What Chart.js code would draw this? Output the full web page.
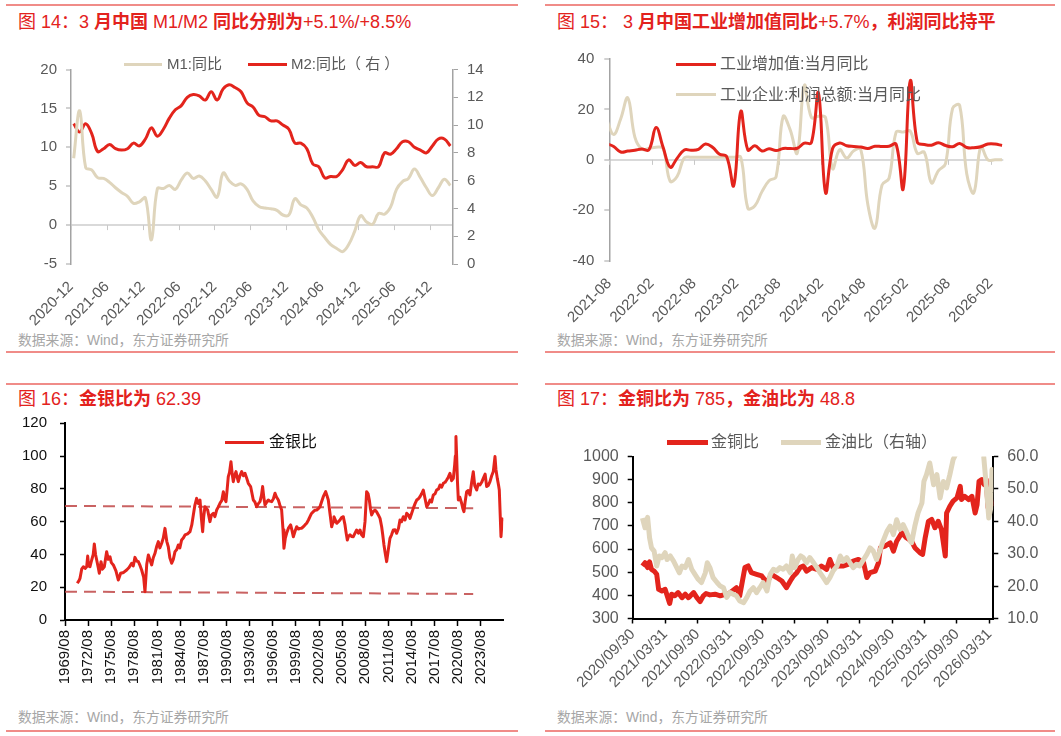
<!DOCTYPE html>
<html>
<head>
<meta charset="utf-8">
<title>图14-图17</title>
<script src="https://cdn.jsdelivr.net/npm/chart.js"></script>
<style>
  html, body { margin: 0; padding: 0; background: #ffffff; }
  body { position: relative; width: 1061px; height: 736px; overflow: hidden;
         font-family: 'Liberation Sans', Arial, 'Noto Sans CJK SC', sans-serif; }
  .rule { position: absolute; height: 2px; background: #f08c88; }
  .title { position: absolute; font-size: 18px; line-height: 22px; color: #e3221d; white-space: nowrap; }
  .src { position: absolute; font-size: 13.8px; line-height: 18px; color: #a6a6a6; white-space: nowrap; }
  .box { position: absolute; }
  .key { position: absolute; }
  .lab { position: absolute; line-height: 20px; white-space: nowrap; }
</style>
</head>
<body>
  <!-- separators -->
  <div class="rule" style="left:6px;top:4px;width:512px"></div>
  <div class="rule" style="left:545px;top:4px;width:510px"></div>
  <div class="rule" style="left:6px;top:351px;width:512px"></div>
  <div class="rule" style="left:545px;top:351px;width:510px"></div>
  <div class="rule" style="left:6px;top:383px;width:512px"></div>
  <div class="rule" style="left:545px;top:383px;width:510px"></div>
  <div class="rule" style="left:6px;top:730px;width:512px"></div>
  <div class="rule" style="left:545px;top:730px;width:510px"></div>

  <!-- titles -->
  <div class="title" style="left:18px;top:11px">图 14：3 <b>月中国</b> M1/M2 <b>同比分别为</b>+5.1%/+8.5%</div>
  <div class="title" style="left:557px;top:11px">图 15： 3 <b>月中国工业增加值同比</b>+5.7%<b>，利润同比持平</b></div>
  <div class="title" style="left:18px;top:388px">图 16：<b>金银比为</b> 62.39</div>
  <div class="title" style="left:557px;top:388px">图 17：<b>金铜比为</b> 785<b>，金油比为</b> 48.8</div>

  <!-- sources -->
  <div class="src" style="left:18px;top:332px">数据来源：Wind，东方证券研究所</div>
  <div class="src" style="left:557px;top:332px">数据来源：Wind，东方证券研究所</div>
  <div class="src" style="left:18px;top:709px">数据来源：Wind，东方证券研究所</div>
  <div class="src" style="left:557px;top:709px">数据来源：Wind，东方证券研究所</div>

  <!-- charts -->
  <div class="box" style="left:0;top:40px"><canvas id="c14" width="530" height="310"></canvas></div>
  <div class="box" style="left:530px;top:40px"><canvas id="c15" width="531" height="310"></canvas></div>
  <div class="box" style="left:0;top:400px"><canvas id="c16" width="530" height="300"></canvas></div>
  <div class="box" style="left:530px;top:400px"><canvas id="c17" width="531" height="300"></canvas></div>

  <!-- legends -->
  <div class="key" style="left:124px;top:63px;width:38px;height:3px;background:#dfd5bc"></div>
  <div class="lab" style="left:167px;top:54px;font-size:15px;color:#595959">M1:同比</div>
  <div class="key" style="left:248px;top:63px;width:39px;height:3px;background:#e3241c"></div>
  <div class="lab" style="left:291px;top:54px;font-size:15px;color:#595959">M2:同比（ 右 ）</div>

  <div class="key" style="left:676px;top:63px;width:40px;height:3px;background:#e3241c"></div>
  <div class="lab" style="left:720px;top:54px;font-size:16px;color:#595959">工业增加值:当月同比</div>
  <div class="key" style="left:676px;top:93px;width:40px;height:3px;background:#dfd5bc"></div>
  <div class="lab" style="left:720px;top:85px;font-size:16px;color:#595959">工业企业:利润总额:当月同比</div>

  <div class="key" style="left:225px;top:441px;width:39px;height:3px;background:#e3241c"></div>
  <div class="lab" style="left:269px;top:432px;font-size:16px;color:#111">金银比</div>

  <div class="key" style="left:667px;top:440px;width:41px;height:5px;background:#e3241c"></div>
  <div class="lab" style="left:711px;top:432px;font-size:16px;color:#595959">金铜比</div>
  <div class="key" style="left:781px;top:440px;width:40px;height:5px;background:#dfd5bc"></div>
  <div class="lab" style="left:825px;top:432px;font-size:16px;color:#595959">金油比（右轴）</div>

<script>
  // ---------- 图14：M1 / M2 同比，2020-12 至 2026-03，月度 ----------
  var moneyTicks = ['2020-12', '2021-06', '2021-12', '2022-06', '2022-12', '2023-06',
                    '2023-12', '2024-06', '2024-12', '2025-06', '2025-12'];
  var m1Yoy = [8.6, 14.7, 7.4, 7.1, 6.1, 6.0, 5.5, 4.8, 4.2, 3.7,
               2.8, 3.0, 3.5, -1.9, 4.7, 4.7, 5.1, 4.6, 5.8, 6.7,
               6.0, 6.3, 5.7, 4.6, 3.6, 6.7, 5.7, 5.1, 5.3, 4.6,
               3.1, 2.4, 2.2, 2.1, 1.9, 1.3, 1.3, 3.4, 2.6, 2.2,
               1.0, -0.6, -1.6, -2.5, -3.0, -3.4, -2.5, -0.8, 1.2, 0.4,
               0.1, 1.5, 1.4, 2.3, 4.6, 5.6, 6.0, 7.2, 6.1, 4.8,
               3.8, 4.8, 5.9, 5.1];
  var m2Yoy = [10.1, 9.5, 10.1, 9.4, 8.1, 8.3, 8.6, 8.3, 8.2, 8.3,
               8.7, 8.5, 9.0, 9.8, 9.2, 9.7, 10.5, 11.1, 11.4, 12.0,
               12.2, 12.1, 11.8, 12.4, 11.8, 12.6, 12.9, 12.7, 12.4, 11.6,
               11.3, 10.7, 10.6, 10.3, 10.3, 10.0, 9.7, 8.7, 8.7, 8.3,
               7.2, 7.0, 6.2, 6.3, 6.3, 6.8, 7.5, 7.1, 7.3, 7.0,
               7.0, 7.0, 8.0, 7.9, 8.3, 8.8, 8.8, 8.4, 8.2, 8.0,
               8.5, 9.0, 9.0, 8.5];

  // ---------- 图15：工业增加值 / 利润总额 当月同比，2021-07 至 2026-03 ----------
  var prodTicks = ['2021-08', '2022-02', '2022-08', '2023-02', '2023-08',
                   '2024-02', '2024-08', '2025-02', '2025-08', '2026-02'];
  var ivaYoy = [6.4, 5.3, 3.1, 3.5, 3.8, 4.3, 4.0, 12.8, 5.0, -2.9,
                0.7, 3.9, 3.8, 4.2, 6.3, 5.0, 2.2, 1.3, -10.2, 19.2,
                3.9, 5.6, 3.5, 4.4, 3.7, 4.5, 4.5, 4.6, 6.6, 6.8,
                26.5, -13.0, 4.5, 6.7, 5.6, 5.3, 5.1, 4.5, 5.4, 5.3,
                5.4, 6.2, -11.5, 31.3, 7.0, 6.1, 5.8, 6.8, 5.7, 5.2,
                6.5, 4.9, 4.8, 5.2, 6.3, 6.3, 5.7];
  var profitYoy = [16.0, 10.1, 16.3, 24.6, 9.0, 4.2, 4.5, 5.0, 4.5, -8.5,
                   -6.5, 0.8, 1.0, 1.0, 1.0, 1.0, 1.0, 1.0, 1.0, 1.0,
                   -19.2, -18.2, -12.6, -8.3, -6.7, 17.2, 11.9, 2.7, 29.5, 16.8,
                   17.3, 16.8, -3.5, 4.0, 0.7, 3.6, 4.1, -17.8, -27.1, -10.0,
                   -7.3, 11.0, 11.0, 11.4, 2.6, 3.0, -9.1, -4.3, -1.5, 20.4,
                   21.6, -5.5, -13.1, 5.3, 0, 0, 0];

  // ---------- 图16：金银比 ----------
  var gsTicks = ['1969/08', '1972/08', '1975/08', '1978/08', '1981/08', '1984/08', '1987/08',
                 '1990/08', '1993/08', '1996/08', '1999/08', '2002/08', '2005/08', '2008/08',
                 '2011/08', '2014/08', '2017/08', '2020/08', '2023/08'];
  var gsYears = [1971.18, 1971.40, 1971.53, 1971.75, 1971.96, 1972.20, 1972.40, 1972.53, 1972.65, 1972.83,
                 1973.05, 1973.25, 1973.39, 1973.55, 1973.70, 1973.90, 1974.04, 1974.26, 1974.45, 1974.69,
                 1974.99, 1975.20, 1975.43, 1975.60, 1975.86, 1976.20, 1976.51, 1976.81, 1977.20, 1977.59,
                 1977.90, 1978.24, 1978.45, 1978.67, 1978.90, 1979.11, 1979.35, 1979.54, 1979.80, 1979.97,
                 1980.20, 1980.41, 1980.84, 1981.05, 1981.27, 1981.50, 1981.70, 1981.90, 1982.14, 1982.35,
                 1982.57, 1982.80, 1983.00, 1983.20, 1983.44, 1983.65, 1983.87, 1984.10, 1984.30, 1984.50,
                 1984.73, 1984.95, 1985.17, 1985.50, 1985.82, 1986.05, 1986.25, 1986.45, 1986.68, 1986.90,
                 1987.12, 1987.30, 1987.46, 1987.60, 1987.76, 1988.11, 1988.41, 1988.60, 1988.85, 1989.05,
                 1989.28, 1989.50, 1989.71, 1989.95, 1990.15, 1990.30, 1990.49, 1990.65, 1990.79, 1990.95,
                 1991.14, 1991.30, 1991.44, 1991.60, 1991.79, 1991.95, 1992.09, 1992.30, 1992.53, 1992.75,
                 1992.96, 1993.15, 1993.39, 1993.69, 1994.04, 1994.25, 1994.47, 1994.70, 1994.91, 1995.10,
                 1995.25, 1995.40, 1995.56, 1995.80, 1995.99, 1996.20, 1996.42, 1996.65, 1996.86, 1997.05,
                 1997.29, 1997.50, 1997.72, 1997.90, 1998.02, 1998.20, 1998.37, 1998.60, 1998.89, 1999.05,
                 1999.24, 1999.45, 1999.67, 1999.90, 2000.10, 2000.30, 2000.54, 2000.75, 2000.97, 2001.20,
                 2001.40, 2001.60, 2001.84, 2002.05, 2002.27, 2002.50, 2002.70, 2002.90, 2003.13, 2003.44,
                 2003.60, 2003.78, 2004.00, 2004.22, 2004.40, 2004.52, 2004.70, 2004.87, 2005.10, 2005.30,
                 2005.50, 2005.73, 2005.95, 2006.10, 2006.25, 2006.40, 2006.60, 2006.80, 2007.03, 2007.25,
                 2007.46, 2007.70, 2007.90, 2008.10, 2008.33, 2008.55, 2008.76, 2008.95, 2009.11, 2009.25,
                 2009.41, 2009.60, 2009.84, 2010.05, 2010.28, 2010.50, 2010.71, 2010.85, 2011.01, 2011.20,
                 2011.36, 2011.55, 2011.79, 2012.00, 2012.22, 2012.45, 2012.66, 2012.90, 2013.09, 2013.30,
                 2013.52, 2013.75, 2013.96, 2014.20, 2014.39, 2014.60, 2014.82, 2015.05, 2015.26, 2015.50,
                 2015.69, 2015.90, 2016.12, 2016.35, 2016.56, 2016.80, 2016.99, 2017.20, 2017.42, 2017.65,
                 2017.85, 2018.10, 2018.29, 2018.50, 2018.72, 2018.95, 2019.15, 2019.35, 2019.58, 2019.80,
                 2020.02, 2020.20, 2020.28, 2020.36, 2020.45, 2020.55, 2020.67, 2020.85, 2021.10, 2021.25,
                 2021.40, 2021.55, 2021.75, 2021.95, 2022.18, 2022.40, 2022.61, 2022.80, 2023.05, 2023.25,
                 2023.48, 2023.70, 2023.91, 2024.15, 2024.35, 2024.55, 2024.78, 2025.00, 2025.21, 2025.43,
                 2025.55, 2025.73, 2025.90, 2025.99, 2026.21, 2026.35, 2026.51];
  var gsRatio = [22.4, 24.0, 25.4, 31.0, 32.5, 31.5, 32.5, 39.0, 33.0, 32.5,
                 36.6, 40.0, 46.4, 40.0, 36.6, 32.0, 28.5, 35.6, 31.0, 32.5,
                 41.7, 37.0, 38.6, 35.0, 33.6, 30.0, 24.4, 28.5, 29.0, 30.5,
                 32.0, 34.6, 33.0, 38.2, 36.0, 35.6, 33.0, 30.5, 26.0, 17.3,
                 34.0, 39.7, 33.6, 38.0, 40.7, 45.0, 47.8, 44.0, 46.8, 50.0,
                 55.9, 48.0, 44.7, 38.0, 34.6, 37.0, 41.7, 43.0, 45.8, 44.0,
                 48.8, 50.0, 51.9, 52.5, 53.9, 58.0, 64.1, 70.0, 74.2, 71.0,
                 73.2, 62.0, 53.9, 63.0, 69.1, 67.1, 60.0, 64.0, 65.1, 63.0,
                 67.1, 69.0, 71.2, 73.0, 78.3, 74.0, 72.2, 80.0, 87.5, 90.0,
                 96.6, 89.0, 84.4, 88.0, 90.5, 87.0, 84.4, 88.0, 90.5, 88.0,
                 89.5, 87.0, 83.4, 81.4, 73.2, 72.0, 69.1, 71.0, 72.2, 76.0,
                 81.4, 75.0, 70.2, 72.0, 73.2, 72.5, 72.2, 74.0, 77.3, 75.0,
                 73.2, 70.0, 67.1, 55.0, 43.7, 50.0, 52.9, 56.0, 58.0, 55.0,
                 50.8, 54.0, 56.9, 55.5, 55.9, 56.0, 56.9, 58.0, 59.0, 61.0,
                 63.0, 65.0, 66.1, 67.0, 67.1, 68.0, 69.1, 72.0, 75.2, 78.3,
                 76.0, 73.2, 65.0, 56.9, 60.0, 63.0, 61.0, 59.0, 60.0, 61.0,
                 62.5, 63.0, 58.0, 53.0, 48.8, 51.0, 51.9, 51.0, 50.8, 53.0,
                 54.9, 53.0, 54.9, 52.0, 50.8, 60.0, 78.3, 77.0, 73.2, 68.0,
                 64.1, 66.0, 67.1, 66.0, 64.1, 62.0, 56.9, 52.0, 45.8, 40.0,
                 35.6, 42.0, 49.8, 52.0, 54.9, 55.0, 52.9, 56.0, 61.0, 60.0,
                 63.0, 61.0, 65.1, 64.0, 62.0, 65.0, 68.1, 71.0, 73.2, 74.0,
                 75.2, 77.0, 79.3, 74.0, 69.1, 71.0, 73.2, 72.0, 76.3, 77.0,
                 79.3, 80.0, 82.4, 81.0, 83.4, 84.0, 85.4, 87.0, 89.5, 85.0,
                 86.4, 95.0, 100.0, 111.9, 100.0, 85.0, 73.2, 75.0, 71.2, 68.0,
                 66.1, 72.0, 78.3, 79.0, 76.3, 84.0, 90.5, 82.0, 79.3, 83.0,
                 82.4, 84.0, 86.4, 89.0, 81.4, 82.0, 84.4, 88.0, 90.5, 99.7,
                 92.0, 86.4, 82.0, 79.3, 50.8, 60.0, 62.4];
  var bandYears = [1969.58, 2022.60];
  var bandHigh = [69.6, 68.2];
  var bandLow = [17.3, 15.9];

  // ---------- 图17：金铜比 / 金油比 ----------
  var ratioTicks = ['2020/09/30', '2021/03/31', '2021/09/30', '2022/03/31', '2022/09/30', '2023/03/31',
                    '2023/09/30', '2024/03/31', '2024/09/30', '2025/03/31', '2025/09/30', '2026/03/31'];
  var cuYears = [2020.90, 2020.94, 2020.98, 2021.01, 2021.04, 2021.08, 2021.12, 2021.15, 2021.20, 2021.25,
                 2021.32, 2021.35, 2021.40, 2021.45, 2021.51, 2021.56, 2021.61, 2021.64, 2021.69, 2021.74,
                 2021.79, 2021.84, 2021.88, 2021.94, 2022.02, 2022.10, 2022.15, 2022.22, 2022.30, 2022.35,
                 2022.40, 2022.48, 2022.53, 2022.58, 2022.66, 2022.74, 2022.82, 2022.89, 2022.97, 2023.05,
                 2023.12, 2023.18, 2023.23, 2023.28, 2023.33, 2023.38, 2023.43, 2023.51, 2023.59, 2023.66,
                 2023.74, 2023.79, 2023.84, 2023.92, 2024.00, 2024.07, 2024.15, 2024.23, 2024.31, 2024.36,
                 2024.41, 2024.49, 2024.54, 2024.57, 2024.64, 2024.72, 2024.77, 2024.82, 2024.90, 2024.97,
                 2025.05, 2025.10, 2025.18, 2025.22, 2025.26, 2025.31, 2025.36, 2025.41, 2025.46, 2025.51,
                 2025.57, 2025.59, 2025.64, 2025.69, 2025.75, 2025.80, 2025.82, 2025.87, 2025.93, 2025.98,
                 2026.03, 2026.06, 2026.09, 2026.13, 2026.17, 2026.20, 2026.23, 2026.27, 2026.29, 2026.31];
  var goldCopper = [527, 541, 520, 545, 512, 505, 491, 426, 419, 426,
                    365, 405, 398, 412, 390, 405, 390, 398, 412, 390,
                    373, 398, 408, 402, 405, 398, 402, 405, 422, 433,
                    398, 520, 527, 498, 491, 484, 455, 491, 477, 462,
                    433, 462, 484, 498, 520, 527, 505, 520, 512, 527,
                    512, 555, 520, 527, 527, 534, 548, 555, 541, 477,
                    498, 505, 541, 606, 613, 627, 591, 634, 670, 649,
                    634, 606, 584, 577, 649, 720, 728, 692, 720, 685,
                    570, 756, 785, 807, 821, 871, 814, 828, 814, 828,
                    756, 792, 893, 900, 878, 900, 778, 814, 792, 785];
  var oilYears = [2020.90, 2020.94, 2020.98, 2021.01, 2021.04, 2021.08, 2021.12, 2021.16, 2021.20, 2021.25,
                  2021.28, 2021.33, 2021.38, 2021.43, 2021.47, 2021.51, 2021.56, 2021.61, 2021.66, 2021.71,
                  2021.76, 2021.81, 2021.87, 2021.90, 2021.94, 2021.99, 2022.05, 2022.10, 2022.15, 2022.20,
                  2022.25, 2022.30, 2022.35, 2022.40, 2022.46, 2022.51, 2022.56, 2022.61, 2022.66, 2022.71,
                  2022.76, 2022.82, 2022.87, 2022.92, 2022.97, 2023.02, 2023.07, 2023.12, 2023.18, 2023.21,
                  2023.25, 2023.30, 2023.34, 2023.38, 2023.43, 2023.48, 2023.54, 2023.59, 2023.64, 2023.69,
                  2023.74, 2023.79, 2023.84, 2023.90, 2023.95, 2024.00, 2024.05, 2024.10, 2024.15, 2024.20,
                  2024.25, 2024.31, 2024.36, 2024.41, 2024.46, 2024.51, 2024.56, 2024.61, 2024.67, 2024.72,
                  2024.77, 2024.82, 2024.87, 2024.92, 2024.97, 2025.03, 2025.05, 2025.10, 2025.15, 2025.21,
                  2025.24, 2025.28, 2025.33, 2025.39, 2025.44, 2025.49, 2025.54, 2025.59, 2025.64, 2025.69,
                  2025.75, 2025.85, 2025.95, 2026.05, 2026.12, 2026.16, 2026.20, 2026.24, 2026.27, 2026.29,
                  2026.31];
  var goldOil = [41.0, 38.0, 41.2, 34.9, 31.8, 30.8, 26.2, 29.3, 28.8, 30.3,
                 28.2, 29.3, 27.7, 25.7, 24.1, 26.2, 25.7, 28.2, 25.2, 23.6,
                 22.1, 21.1, 24.1, 27.2, 25.7, 22.6, 21.1, 20.0, 19.5, 16.5,
                 18.0, 17.5, 17.0, 15.4, 14.9, 16.5, 18.5, 19.5, 18.0, 19.5,
                 21.1, 18.5, 23.6, 25.2, 24.7, 25.7, 25.2, 26.2, 24.1, 29.3,
                 25.7, 28.2, 29.3, 28.8, 27.2, 28.8, 27.2, 25.7, 24.1, 22.6,
                 21.1, 22.6, 24.7, 26.2, 29.3, 27.7, 28.8, 27.2, 25.7, 26.7,
                 26.2, 28.2, 29.8, 31.8, 30.8, 28.2, 30.8, 33.9, 36.9, 38.5,
                 35.9, 40.5, 37.5, 39.0, 36.9, 33.9, 33.4, 38.5, 42.6, 45.7,
                 52.3, 54.4, 58.0, 51.3, 54.4, 47.2, 52.3, 50.3, 54.4, 59.0,
                 61.5, 64.0, 65.0, 63.0, 61.0, 60.5, 51.3, 41.0, 44.0, 56.0,
                 48.8];

  // ---------- 公共设置 ----------
  Chart.defaults.font.family = "'Liberation Sans', Arial, 'Noto Sans CJK SC', sans-serif";
  Chart.defaults.animation = false;
  Chart.defaults.plugins.legend.display = false;
  Chart.defaults.plugins.tooltip.enabled = false;
  Chart.defaults.elements.point.radius = 0;
  Chart.defaults.elements.line.borderJoinStyle = 'round';

  var RED = '#e3241c', SAND = '#dfd5bc', GREY = '#595959', AXIS_GREY = '#a3a3a3';

  function seqPoints(vals, shift) { return vals.map(function (v, i) { return { x: i + shift, y: v }; }); }
  function pairPoints(xs, ys) { return ys.map(function (v, i) { return { x: xs[i], y: v }; }); }
  function fixWidth(w) { return function (s) { s.width = w; }; }
  function fixHeight(h) { return function (s) { s.height = h; }; }
  function fixedTicks(labels, start, step) {
    return function (s) { s.ticks = labels.map(function (_, k) { return { value: start + k * step }; }); };
  }

  // 零轴上的刻度线（图14、图15）
  var zeroTicks = {
    id: 'zeroTicks',
    beforeDatasetsDraw: function (chart) {
      var x = chart.scales.x, y0 = chart.scales.y.getPixelForValue(0), c = chart.ctx;
      c.save();
      c.strokeStyle = '#c8c8c8';
      c.lineWidth = 1;
      x.ticks.forEach(function (t) {
        var px = Math.round(x.getPixelForValue(t.value)) + 0.5;
        c.beginPath(); c.moveTo(px, y0); c.lineTo(px, y0 + 5); c.stroke();
      });
      c.restore();
    }
  };

  // 图14
  new Chart(document.getElementById('c14'), {
    type: 'line',
    data: { datasets: [
      { data: seqPoints(m1Yoy, 0.45), borderColor: SAND, borderWidth: 3, tension: 0.4, yAxisID: 'y' },
      { data: seqPoints(m2Yoy, 0.45), borderColor: RED, borderWidth: 3, tension: 0.4, yAxisID: 'y1' }
    ] },
    options: {
      responsive: false,
      layout: { padding: { top: 29.5, left: 0, right: 0, bottom: 0 } },
      scales: {
        x: { type: 'linear', min: 0, max: 63.9, afterFit: fixHeight(86),
             afterBuildTicks: fixedTicks(moneyTicks, 0, 6),
             grid: { display: false }, border: { display: false },
             ticks: { callback: function (v, i) { return moneyTicks[i]; }, autoSkip: false,
                      maxRotation: 45, minRotation: 45, color: GREY, font: { size: 15 }, padding: 6 } },
        y: { position: 'left', min: -5, max: 20, afterFit: fixWidth(71),
             grid: { color: function (c) { return c.tick.value === 0 ? '#d9d9d9' : 'rgba(0,0,0,0)'; },
                     lineWidth: 2, tickColor: AXIS_GREY, tickLength: 5, tickWidth: 1 },
             border: { color: AXIS_GREY, width: 1.5 },
             ticks: { stepSize: 5, color: GREY, font: { size: 15 }, padding: 9 } },
        y1: { position: 'right', min: 0, max: 14, afterFit: fixWidth(77),
              grid: { drawOnChartArea: false, tickColor: AXIS_GREY, tickLength: 5, tickWidth: 1 },
              border: { color: AXIS_GREY, width: 1.5 },
              ticks: { stepSize: 2, color: GREY, font: { size: 15 }, padding: 9 } }
      }
    },
    plugins: [zeroTicks]
  });

  // 图15
  new Chart(document.getElementById('c15'), {
    type: 'line',
    data: { datasets: [
      { data: seqPoints(ivaYoy, -0.38), borderColor: RED, borderWidth: 3, tension: 0.4, clip: 0 },
      { data: seqPoints(profitYoy, -0.38), borderColor: SAND, borderWidth: 3, tension: 0.4, clip: 0 }
    ] },
    options: {
      responsive: false,
      layout: { padding: { top: 17.3, left: 0, right: 57.7, bottom: 0 } },
      scales: {
        x: { type: 'linear', min: 0, max: 55.8, afterFit: fixHeight(89.3),
             afterBuildTicks: fixedTicks(prodTicks, 0, 6),
             grid: { display: false }, border: { display: false },
             ticks: { callback: function (v, i) { return prodTicks[i]; }, autoSkip: false,
                      maxRotation: 45, minRotation: 45, color: GREY, font: { size: 15 }, padding: 6 } },
        y: { position: 'left', min: -40, max: 40, afterFit: fixWidth(79.3),
             grid: { color: function (c) { return c.tick.value === 0 ? '#d9d9d9' : 'rgba(0,0,0,0)'; },
                     lineWidth: 2, tickColor: AXIS_GREY, tickLength: 5, tickWidth: 1 },
             border: { color: AXIS_GREY, width: 1.5 },
             ticks: { stepSize: 20, color: GREY, font: { size: 15 }, padding: 10 } }
      }
    },
    plugins: [zeroTicks]
  });

  // 图16
  new Chart(document.getElementById('c16'), {
    type: 'line',
    data: { datasets: [
      { data: pairPoints(gsYears, gsRatio), borderColor: RED, borderWidth: 3, tension: 0 },
      { data: pairPoints(bandYears, bandHigh), borderColor: 'rgba(192,70,70,0.85)', borderWidth: 2, borderDash: [12, 7], tension: 0 },
      { data: pairPoints(bandYears, bandLow), borderColor: 'rgba(192,70,70,0.85)', borderWidth: 2, borderDash: [12, 7], tension: 0 }
    ] },
    options: {
      responsive: false,
      layout: { padding: { top: 23.3, left: 0, right: 26.7, bottom: 0 } },
      scales: {
        x: { type: 'linear', min: 1969.583, max: 2026.51, afterFit: fixHeight(80),
             afterBuildTicks: fixedTicks(gsTicks, 1969.583, 3),
             grid: { drawOnChartArea: false, tickColor: '#000', tickLength: 6, tickWidth: 1.5 },
             border: { color: '#000', width: 2 },
             ticks: { callback: function (v, i) { return gsTicks[i]; }, autoSkip: false,
                      maxRotation: 90, minRotation: 90, color: '#111', font: { size: 15 }, padding: 4 } },
        y: { position: 'left', min: 0, max: 120, afterFit: fixWidth(65),
             grid: { drawOnChartArea: false, tickColor: '#000', tickLength: 5, tickWidth: 1.5 },
             border: { color: '#000', width: 2 },
             ticks: { stepSize: 20, color: '#111', font: { size: 15 }, padding: 13 } }
      }
    }
  });

  // 图17
  new Chart(document.getElementById('c17'), {
    type: 'line',
    data: { datasets: [
      { data: pairPoints(oilYears, goldOil), borderColor: SAND, borderWidth: 5, tension: 0, yAxisID: 'y1', clip: 0 },
      { data: pairPoints(cuYears, goldCopper), borderColor: RED, borderWidth: 5, tension: 0, yAxisID: 'y', clip: 0 }
    ] },
    options: {
      responsive: false,
      layout: { padding: { top: 56.5, left: 0, right: 0, bottom: 0 } },
      scales: {
        x: { type: 'linear', min: 2020.75, max: 2026.31, afterFit: fixHeight(81.5),
             afterBuildTicks: fixedTicks(ratioTicks, 2020.75, 0.5),
             grid: { drawOnChartArea: false, tickColor: '#000', tickLength: 5, tickWidth: 1.5 },
             border: { color: '#000', width: 2 },
             ticks: { callback: function (v, i) { return ratioTicks[i]; }, autoSkip: false,
                      maxRotation: 45, minRotation: 45, color: GREY, font: { size: 15 }, padding: 2 } },
        y: { position: 'left', min: 300, max: 1000, afterFit: fixWidth(102.7),
             grid: { drawOnChartArea: false, tickColor: '#000', tickLength: 5, tickWidth: 1.5 },
             border: { color: '#000', width: 2 },
             ticks: { stepSize: 100, color: GREY, font: { size: 16 }, padding: 9,
                      callback: function (v) { return String(v); } } },
        y1: { position: 'right', min: 10, max: 60, afterFit: fixWidth(67.7),
              grid: { drawOnChartArea: false, tickColor: '#000', tickLength: 5, tickWidth: 1.5 },
              border: { color: '#000', width: 2 },
              ticks: { stepSize: 10, color: GREY, font: { size: 16 }, padding: 9,
                       callback: function (v) { return v.toFixed(1); } } }
      }
    }
  });
</script>
</body>
</html>
